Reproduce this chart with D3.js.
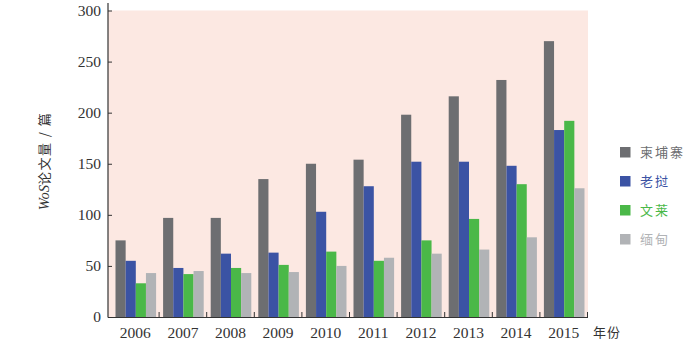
<!DOCTYPE html>
<html><head><meta charset="utf-8">
<script src="https://cdn.jsdelivr.net/npm/d3@7"></script>
<style>body{margin:0;background:#fff;} svg{display:block;}</style>
</head><body>
<svg id="c" width="700" height="349"></svg>
<script>
const years = ["2006","2007","2008","2009","2010","2011","2012","2013","2014","2015"];
const seriesNames = ["柬埔寨","老挝","文莱","缅甸"];
const seriesColors = ["#6d6e71","#3b53a4","#4ab848","#b1b3b6"];
const cambodia = [75, 97, 97, 135, 150, 154, 198, 216, 232, 270];
const laos     = [55, 48, 62, 63, 103, 128, 152, 152, 148, 183];
const brunei   = [33, 42, 48, 51, 64, 55, 75, 96, 130, 192];
const myanmar  = [43, 45, 43, 44, 50, 58, 62, 66, 78, 126];
const yTicks = [0, 50, 100, 150, 200, 250, 300];
const seriesValues = [cambodia, laos, brunei, myanmar];

const svg = d3.select("#c");
const x0 = 108, x1 = 588, yTop = 10.5, yBot = 317;
const serif = "'Liberation Serif','Times New Roman',serif";
const cjk = "'Noto Sans CJK SC',sans-serif";

const x = d3.scaleBand().domain(years).range([111.5, 587.5]).paddingInner(0).paddingOuter(0);
const xs = d3.scaleBand().domain(d3.range(4)).range([4, x.bandwidth() - 3]);
const y = d3.scaleLinear().domain([0, 300]).range([yBot, yTop]);

svg.append("rect").attr("x", x0).attr("y", yTop).attr("width", x1 - x0).attr("height", yBot - yTop).attr("fill", "#fce8e2");

const g = svg.append("g");
years.forEach((yr, i) => {
  seriesValues.forEach((vals, s) => {
    g.append("rect")
      .attr("x", x(yr) + xs(s))
      .attr("y", y(vals[i]))
      .attr("width", xs.bandwidth())
      .attr("height", yBot - y(vals[i]))
      .attr("fill", seriesColors[s]);
  });
});

// y axis
const yAx = svg.append("g").attr("transform", `translate(${x0},0)`)
  .call(d3.axisRight(y).tickValues(yTicks).tickSize(4).tickFormat(""));
yAx.select(".domain").remove();
yAx.selectAll(".tick line").attr("stroke", "#333").attr("stroke-width", 1);
svg.append("line").attr("x1", x0).attr("x2", x0).attr("y1", 3).attr("y2", yBot + 0.5).attr("stroke", "#333").attr("stroke-width", 1.2);
svg.append("g").selectAll("text").data(yTicks).join("text")
  .attr("x", 101).attr("y", d => y(d) + 5)
  .attr("text-anchor", "end").attr("font-family", serif).attr("font-size", 15.5).attr("fill", "#333")
  .text(d => d);

// x axis
svg.append("line").attr("x1", x0).attr("x2", x1).attr("y1", yBot + 0.5).attr("y2", yBot + 0.5).attr("stroke", "#333").attr("stroke-width", 1.2);
svg.append("g").selectAll("line").data(years).join("line")
  .attr("x1", d => x(d) + x.bandwidth()).attr("x2", d => x(d) + x.bandwidth())
  .attr("y1", yBot - 5).attr("y2", yBot).attr("stroke", "#333");
svg.append("g").selectAll("text").data(years).join("text")
  .attr("x", d => x(d) + x.bandwidth() / 2).attr("y", 338)
  .attr("text-anchor", "middle").attr("font-family", serif).attr("font-size", 15.5).attr("fill", "#333")
  .text(d => d);
svg.append("text").attr("x", 593).attr("y", 337).attr("font-family", cjk).attr("font-size", 13).attr("fill", "#333")
  .attr("letter-spacing", 1).text("年份");

// y label
const yl = svg.append("text").attr("transform", "translate(49,161) rotate(-90)")
  .attr("text-anchor", "middle").attr("font-size", 14.5).attr("fill", "#333");
yl.append("tspan").attr("font-family", serif).attr("font-style", "italic").text("WoS");
yl.append("tspan").attr("font-family", cjk).attr("font-size", 13).attr("letter-spacing", 1.5).text("论文量 / 篇");

// legend
const leg = svg.append("g");
seriesNames.forEach((n, i) => {
  const cy = 152 + i * 29;
  leg.append("rect").attr("x", 620).attr("y", cy - 5).attr("width", 10.5).attr("height", 10.5).attr("fill", seriesColors[i]);
  leg.append("text").attr("x", 640).attr("y", cy + 5).attr("font-family", cjk).attr("font-size", 13).attr("fill", seriesColors[i])
    .attr("letter-spacing", 2).text(n);
});
</script>
</body></html>
